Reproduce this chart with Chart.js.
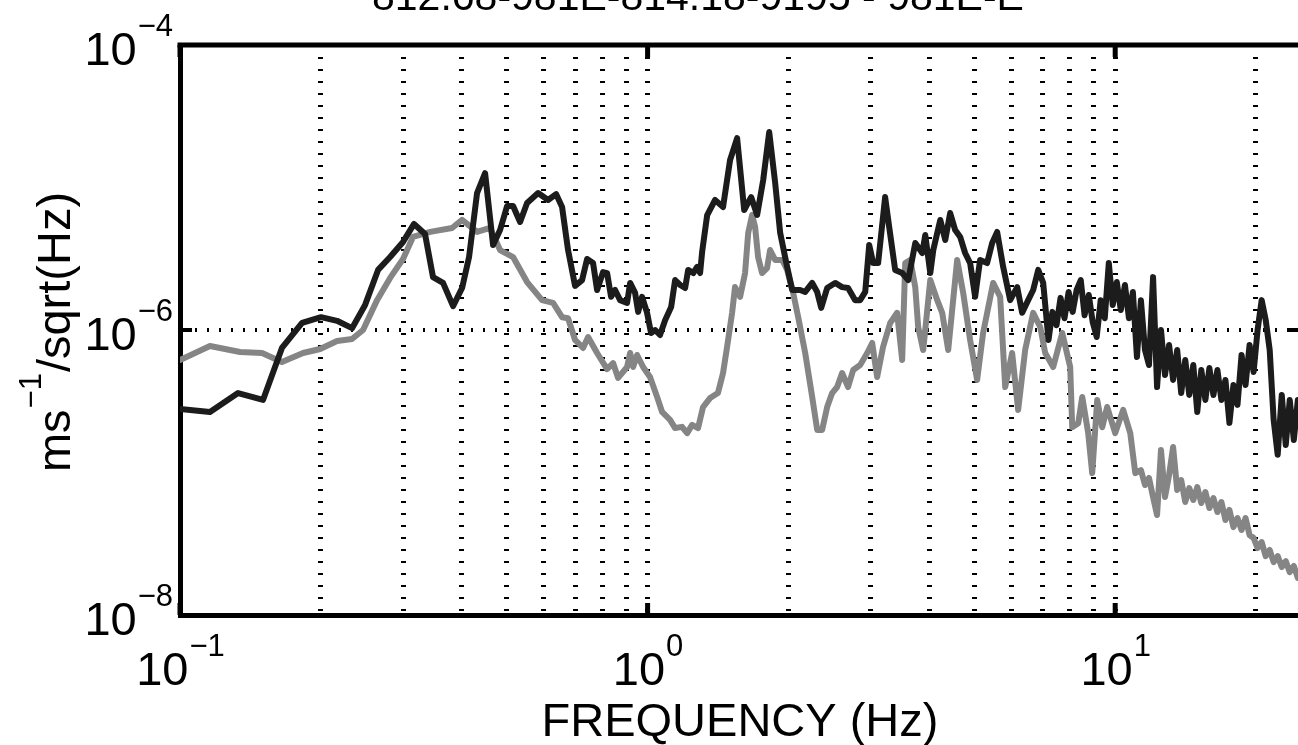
<!DOCTYPE html>
<html>
<head>
<meta charset="utf-8">
<title>Velocity spectrum</title>
<script src="https://cdn.jsdelivr.net/npm/chart.js@4"></script>
<style>
  html, body { margin: 0; padding: 0; background: #fff; }
  #chart { display: block; }
</style>
</head>
<body>
<canvas id="chart" width="1298" height="745"></canvas>
<script>
/* Frequencies (Hz) and amplitudes (m/s/sqrt(Hz)) */
var FREQ_BLACK = [
  0.1, 0.1159, 0.1331, 0.1505, 0.1652, 0.1824, 0.2003, 0.2167, 0.2333, 0.2488,
  0.2652, 0.2814, 0.2999, 0.3166, 0.3342, 0.3476, 0.3652, 0.3837, 0.4011, 0.4151,
  0.4318, 0.4492, 0.4672, 0.4836, 0.5006, 0.5156, 0.5337, 0.5524, 0.5832, 0.6126,
  0.6372, 0.6563, 0.6759, 0.6997, 0.7242, 0.7424, 0.7645, 0.7798, 0.8031, 0.8192,
  0.8354, 0.8520, 0.8733, 0.9040, 0.9176, 0.9404, 0.9544, 0.9732, 0.9975, 1.017,
  1.038, 1.063, 1.090, 1.123, 1.145, 1.174, 1.203, 1.221, 1.252, 1.276,
  1.295, 1.308, 1.341, 1.394, 1.450, 1.501, 1.554, 1.609, 1.665, 1.715,
  1.767, 1.820, 1.874, 1.921, 1.988, 2.038, 2.119, 2.173, 2.249, 2.305,
  2.351, 2.421, 2.518, 2.606, 2.684, 2.779, 2.848, 2.920, 2.978, 3.037,
  3.112, 3.221, 3.286, 3.384, 3.503, 3.609, 3.736, 3.867, 3.925, 4.023,
  4.083, 4.226, 4.331, 4.437, 4.548, 4.661, 4.776, 4.895, 5.017, 5.141,
  5.322, 5.456, 5.592, 5.760, 5.962, 6.172, 6.325, 6.515, 6.677, 6.845,
  7.015, 7.20, 7.34, 7.49, 7.64, 7.79, 7.95, 8.11, 8.27, 8.44,
  8.60, 8.78, 8.95, 9.13, 9.31, 9.50, 9.69, 9.88, 10.08, 10.28,
  10.49, 10.70, 10.91, 11.13, 11.35, 11.58, 11.81, 12.05, 12.29, 12.53,
  12.78, 13.04, 13.30, 13.57, 13.84, 14.12, 14.40, 14.69, 14.98, 15.28,
  15.59, 15.90, 16.22, 16.54, 16.87, 17.21, 17.55, 17.90, 18.26, 18.63,
  19.00, 19.38, 19.77, 20.16, 20.57, 20.98, 21.40, 21.82, 22.26, 22.71,
  23.16, 23.62, 24.10, 24.58
];
var VAL_BLACK = [
  2.79e-7, 2.66e-7, 3.61e-7, 3.23e-7, 7.48e-7, 1.12e-6, 1.23e-6, 1.16e-6, 1.03e-6, 1.50e-6,
  2.64e-6, 3.25e-6, 4.15e-6, 5.55e-6, 4.72e-6, 2.35e-6, 2.14e-6, 1.47e-6, 1.97e-6, 3.25e-6,
  9.14e-6, 1.26e-5, 3.95e-6, 5.03e-6, 7.41e-6, 7.41e-6, 5.73e-6, 7.78e-6, 9.14e-6, 8.17e-6,
  8.99e-6, 7.30e-6, 3.64e-6, 2.04e-6, 2.24e-6, 3.15e-6, 2.95e-6, 1.91e-6, 2.55e-6, 2.51e-6,
  1.71e-6, 1.91e-6, 1.62e-6, 1.55e-6, 2.14e-6, 1.82e-6, 1.34e-6, 1.71e-6, 1.32e-6, 9.53e-7,
  1.00e-6, 9.22e-7, 1.17e-6, 1.45e-6, 2.24e-6, 2.07e-6, 1.97e-6, 2.64e-6, 2.51e-6, 2.77e-6,
  2.51e-6, 3.53e-6, 6.41e-6, 8.17e-6, 7.30e-6, 1.56e-5, 2.22e-5, 6.95e-6, 8.57e-6, 6.41e-6,
  1.13e-5, 2.45e-5, 1.08e-5, 4.80e-6, 2.77e-6, 1.91e-6, 1.91e-6, 1.85e-6, 2.14e-6, 1.85e-6,
  1.43e-6, 1.97e-6, 2.14e-6, 2.00e-6, 1.97e-6, 1.62e-6, 1.62e-6, 1.85e-6, 3.95e-6, 2.95e-6,
  2.95e-6, 8.57e-6, 5.28e-6, 2.64e-6, 2.51e-6, 2.24e-6, 4.08e-6, 3.47e-6, 4.64e-6, 2.51e-6,
  3.64e-6, 5.92e-6, 4.28e-6, 6.62e-6, 5.03e-6, 4.50e-6, 3.47e-6, 2.95e-6, 1.71e-6, 3.10e-6,
  2.95e-6, 4.08e-6, 4.88e-6, 2.77e-6, 1.62e-6, 2.00e-6, 1.32e-6, 1.62e-6, 1.91e-6, 2.64e-6,
  2.14e-6, 8.51e-7, 1.34e-6, 1.08e-6, 1.68e-6, 1.21e-6, 1.85e-6, 1.34e-6, 1.91e-6, 2.24e-6,
  1.27e-6, 1.76e-6, 1.14e-6, 8.93e-7, 1.62e-6, 1.21e-6, 2.95e-6, 1.50e-6, 2.17e-6, 1.38e-6,
  2.07e-6, 1.21e-6, 1.85e-6, 6.46e-7, 1.62e-6, 7.24e-7, 5.68e-7, 2.35e-6, 3.98e-7, 1.00e-6,
  4.83e-7, 7.85e-7, 4.46e-7, 7.24e-7, 3.61e-7, 6.16e-7, 3.50e-7, 5.68e-7, 2.66e-7, 5.24e-7,
  3.23e-7, 5.41e-7, 3.50e-7, 5.24e-7, 3.23e-7, 4.46e-7, 2.23e-7, 4.11e-7, 2.98e-7, 6.68e-7,
  4.11e-7, 7.85e-7, 5.07e-7, 1.00e-6, 1.62e-6, 1.18e-6, 7.24e-7, 2.34e-7, 1.33e-7, 3.50e-7,
  1.56e-7, 3.23e-7, 1.69e-7, 3.23e-7
];

var FREQ_GREY = [
  0.1, 0.1159, 0.1344, 0.1498, 0.1652, 0.1833, 0.1994, 0.2167, 0.2333, 0.2463,
  0.2639, 0.2814, 0.2999, 0.3150, 0.3427, 0.3818, 0.4011, 0.4318, 0.4603, 0.4836,
  0.5156, 0.5524, 0.5947, 0.6278, 0.6563, 0.6759, 0.6997, 0.7278, 0.7460, 0.7798,
  0.8192, 0.8437, 0.8648, 0.9040, 0.9176, 0.9311, 0.9496, 0.9781, 1.012, 1.048,
  1.074, 1.117, 1.145, 1.185, 1.215, 1.245, 1.282, 1.314, 1.360, 1.414,
  1.450, 1.479, 1.516, 1.538, 1.577, 1.616, 1.641, 1.673, 1.698, 1.723,
  1.757, 1.801, 1.828, 1.874, 1.940, 1.988, 2.048, 2.099, 2.173, 2.249,
  2.305, 2.362, 2.421, 2.481, 2.543, 2.606, 2.684, 2.752, 2.848, 2.949,
  3.022, 3.097, 3.188, 3.302, 3.417, 3.503, 3.556, 3.645, 3.736, 3.790,
  3.885, 4.023, 4.163, 4.266, 4.394, 4.592, 4.731, 4.895, 5.067, 5.218,
  5.483, 5.675, 5.818, 6.020, 6.201, 6.419, 6.677, 6.913, 7.085, 7.369,
  7.704, 8.012, 8.093, 8.337, 8.502, 8.755, 8.930, 9.153, 9.380, 9.613,
  10.0, 10.40, 10.77, 11.04, 11.35, 11.58, 11.81, 12.05, 12.29, 12.53,
  12.78, 13.04, 13.30, 13.57, 13.84, 14.12, 14.40, 14.69, 14.98, 15.28,
  15.59, 15.90, 16.22, 16.54, 16.87, 17.21, 17.55, 17.90, 18.26, 18.63,
  19.00, 19.38, 19.77, 20.16, 20.57, 20.98, 21.40, 21.82, 22.26, 22.71,
  23.16, 23.62, 24.10, 24.58
];
var VAL_GREY = [
  6.16e-7, 7.72e-7, 7.01e-7, 6.90e-7, 5.96e-7, 6.90e-7, 7.36e-7, 8.37e-7, 8.65e-7, 1.00e-6,
  1.62e-6, 2.32e-6, 3.15e-6, 4.50e-6, 4.88e-6, 5.20e-6, 5.92e-6, 4.88e-6, 5.20e-6, 3.64e-6,
  3.25e-6, 2.17e-6, 1.62e-6, 1.55e-6, 1.23e-6, 1.21e-6, 8.51e-7, 7.48e-7, 8.93e-7, 6.90e-7,
  5.32e-7, 5.86e-7, 4.61e-7, 5.50e-7, 6.90e-7, 5.50e-7, 6.68e-7, 5.50e-7, 4.68e-7, 3.39e-7,
  2.66e-7, 2.34e-7, 2.05e-7, 2.09e-7, 1.89e-7, 2.16e-7, 2.05e-7, 2.88e-7, 3.33e-7, 3.61e-7,
  4.99e-7, 7.60e-7, 1.32e-6, 2.00e-6, 1.71e-6, 2.51e-6, 4.80e-6, 6.41e-6, 5.28e-6, 3.25e-6,
  2.51e-6, 2.72e-6, 3.64e-6, 3.10e-6, 3.10e-6, 2.64e-6, 1.82e-6, 1.23e-6, 6.90e-7, 3.39e-7,
  1.99e-7, 1.99e-7, 2.88e-7, 3.61e-7, 3.98e-7, 4.99e-7, 3.98e-7, 5.24e-7, 5.68e-7, 6.90e-7,
  8.11e-7, 4.68e-7, 7.60e-7, 1.12e-6, 1.32e-6, 6.16e-7, 2.95e-6, 3.10e-6, 2.00e-6, 1.05e-6,
  7.24e-7, 2.24e-6, 1.62e-6, 1.32e-6, 7.24e-7, 3.10e-6, 1.82e-6, 8.51e-7, 4.46e-7, 9.53e-7,
  2.14e-6, 1.71e-6, 3.98e-7, 6.90e-7, 2.75e-7, 7.24e-7, 1.32e-6, 1.05e-6, 6.90e-7, 5.50e-7,
  9.53e-7, 5.50e-7, 2.08e-7, 2.22e-7, 3.39e-7, 1.89e-7, 9.90e-8, 3.23e-7, 2.08e-7, 2.88e-7,
  1.89e-7, 2.75e-7, 1.89e-7, 9.90e-8, 1.04e-7, 8.17e-8, 9.15e-8, 6.73e-8, 5.03e-8, 1.44e-7,
  6.73e-8, 9.61e-8, 1.51e-7, 7.54e-8, 8.86e-8, 6.21e-8, 7.78e-8, 6.41e-8, 7.91e-8, 6.11e-8,
  7.30e-8, 5.63e-8, 6.62e-8, 5.28e-8, 6.21e-8, 4.64e-8, 5.46e-8, 4.14e-8, 4.79e-8, 3.95e-8,
  4.79e-8, 3.64e-8, 3.47e-8, 2.95e-8, 3.25e-8, 2.59e-8, 2.86e-8, 2.35e-8, 2.59e-8, 2.17e-8,
  2.39e-8, 2.00e-8, 2.21e-8, 1.82e-8
];

/* Axis ticks and grid positions */
var X_GRID = [0.1, 0.2, 0.3, 0.4, 0.5, 0.6, 0.7, 0.8, 0.9, 1, 2, 3, 4, 5, 6, 7, 8, 9, 10, 20];
var X_MAJOR = [0.1, 1, 10];
var X_LABELS = ['\u22121', '0', '1'];
var Y_MAJOR = [1e-8, 1e-6, 1e-4];
var Y_LABELS = ['\u22128', '\u22126', '\u22124'];

var TITLE = '812.68-981E-814.18-9195 - 981E-E';
var X_TITLE = 'FREQUENCY (Hz)';

var FONT = "'Liberation Sans', Arial, Helvetica, sans-serif";

function toPoints(xs, ys) {
  return xs.map(function (x, i) { return { x: x, y: ys[i] }; });
}

/* Draws "10" with a superscript exponent; align is 'center' or 'right' */
function drawPower(ctx, exp, x, y, align) {
  ctx.font = '47px ' + FONT;
  var wBase = ctx.measureText('10').width;
  ctx.font = '31px ' + FONT;
  var wSup = ctx.measureText(exp).width;
  var left = align === 'right' ? x - wBase - wSup : x - (wBase + wSup) / 2;
  ctx.textAlign = 'left';
  ctx.textBaseline = 'alphabetic';
  ctx.font = '47px ' + FONT;
  ctx.fillText('10', left, y);
  ctx.font = '31px ' + FONT;
  ctx.fillText(exp, left + wBase + 1, y - 29);
}

var decorations = {
  id: 'decorations',
  afterDraw: function (chart) {
    var ctx = chart.ctx;
    var area = chart.chartArea;
    var xs = chart.scales.x;
    var ys = chart.scales.y;
    ctx.save();
    ctx.fillStyle = '#000';
    ctx.strokeStyle = '#000';

    /* top frame line */
    ctx.lineWidth = 5;
    ctx.beginPath();
    ctx.moveTo(area.left - 2.5, area.top);
    ctx.lineTo(area.right, area.top);
    ctx.stroke();

    /* major tick marks, pointing inward */
    ctx.lineWidth = 5;
    X_MAJOR.forEach(function (v) {
      var px = xs.getPixelForValue(v);
      ctx.beginPath();
      ctx.moveTo(px, area.bottom);
      ctx.lineTo(px, area.bottom - 12);
      ctx.moveTo(px, area.top);
      ctx.lineTo(px, area.top + 12);
      ctx.stroke();
    });
    ctx.lineWidth = 4;
    Y_MAJOR.forEach(function (v) {
      var py = ys.getPixelForValue(v);
      ctx.beginPath();
      ctx.moveTo(area.left, py);
      ctx.lineTo(area.left + 12, py);
      ctx.moveTo(area.right - 10, py);
      ctx.lineTo(area.right, py);
      ctx.stroke();
    });

    /* tick labels */
    X_MAJOR.forEach(function (v, i) {
      drawPower(ctx, X_LABELS[i], xs.getPixelForValue(v), area.bottom + 70, 'center');
    });
    Y_MAJOR.forEach(function (v, i) {
      drawPower(ctx, Y_LABELS[i], area.left - 8, ys.getPixelForValue(v) + 20, 'right');
    });

    /* x axis title */
    ctx.font = '47px ' + FONT;
    ctx.textAlign = 'center';
    ctx.fillText(X_TITLE, 740, 736);

    /* y axis title: ms^-1/sqrt(Hz), rotated */
    ctx.save();
    ctx.translate(70, 333);
    ctx.rotate(-Math.PI / 2);
    ctx.textAlign = 'left';
    ctx.font = '47px ' + FONT;
    var w1 = ctx.measureText('ms').width;
    var w3 = ctx.measureText('/sqrt(Hz)').width;
    ctx.font = '31px ' + FONT;
    var w2 = ctx.measureText('\u22121').width;
    var start = -(w1 + w2 + w3) / 2;
    ctx.font = '47px ' + FONT;
    ctx.fillText('ms', start, 0);
    ctx.font = '31px ' + FONT;
    ctx.fillText('\u22121', start + w1 + 1, -29);
    ctx.font = '47px ' + FONT;
    ctx.fillText('/sqrt(Hz)', start + w1 + w2 + 2, 0);
    ctx.restore();

    /* title, mostly above the top edge */
    ctx.font = '41px ' + FONT;
    ctx.textAlign = 'left';
    ctx.fillText(TITLE, 372, 10);

    ctx.restore();
  }
};

new Chart(document.getElementById('chart'), {
  type: 'line',
  data: {
    datasets: [
      {
        label: 'Trace 1',
        data: toPoints(FREQ_BLACK, VAL_BLACK),
        borderColor: '#1c1c1c',
        borderWidth: 6,
        order: 0
      },
      {
        label: 'Trace 2',
        data: toPoints(FREQ_GREY, VAL_GREY),
        borderColor: '#858585',
        borderWidth: 6,
        order: 1
      }
    ]
  },
  options: {
    responsive: false,
    animation: false,
    layout: { padding: { top: 45, right: 0, left: 0, bottom: 0 } },
    elements: {
      point: { radius: 0 },
      line: { tension: 0, borderJoinStyle: 'round', borderCapStyle: 'round' }
    },
    plugins: {
      legend: { display: false },
      tooltip: { enabled: false },
      title: { display: false }
    },
    scales: {
      x: {
        type: 'logarithmic',
        position: 'bottom',
        min: 0.1,
        max: 24.6,
        bounds: 'data',
        afterFit: function (scale) { scale.height = 130; },
        afterBuildTicks: function (scale) {
          scale.ticks = X_GRID.map(function (v) { return { value: v }; });
        },
        ticks: { display: false },
        grid: { color: '#000', lineWidth: 5, drawTicks: false, tickLength: 0 },
        border: { display: true, color: '#000', width: 5, dash: [2, 10] }
      },
      y: {
        type: 'logarithmic',
        position: 'left',
        min: 1e-8,
        max: 1e-4,
        bounds: 'data',
        afterFit: function (scale) { scale.width = 180; },
        afterBuildTicks: function (scale) {
          scale.ticks = Y_MAJOR.map(function (v) { return { value: v }; });
        },
        ticks: { display: false },
        grid: { color: '#000', lineWidth: 4, drawTicks: false, tickLength: 0 },
        border: { display: true, color: '#000', width: 5, dash: [2, 10] }
      }
    }
  },
  plugins: [decorations]
});
</script>
</body>
</html>
